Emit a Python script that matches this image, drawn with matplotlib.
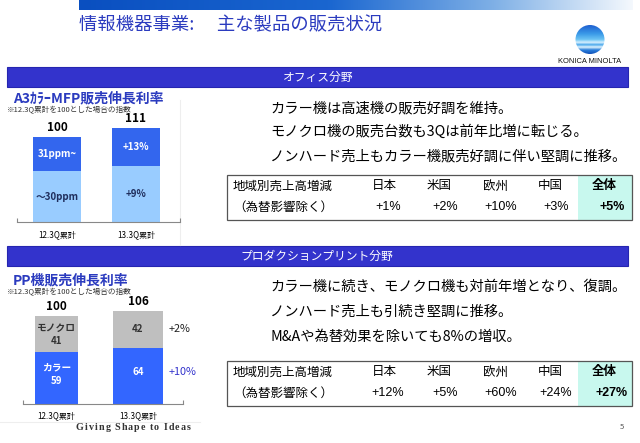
import numpy as np
import matplotlib
matplotlib.use("Agg")
import matplotlib.pyplot as plt
from matplotlib.patches import Rectangle, Circle
from matplotlib.colors import LinearSegmentedColormap

plt.rcParams['font.family'] = ['Noto Sans CJK JP', 'DejaVu Sans']

# ---- data ----
periods = ['12.3Q累計', '13.3Q累計']

# A3 color MFP index (12.3Q = 100)
mfp_low = [60, 65.4]       # ~30ppm
mfp_high = [40, 45.6]      # 31ppm~
mfp_total = [100, 111]
mfp_low_labels = ['～30ppm', '+9%']
mfp_high_labels = ['31ppm~', '+13%']

# PP index (12.3Q = 100)
pp_color = [59, 64]
pp_mono = [41, 42]
pp_total = [100, 106]
pp_color_labels = ['カラー\n59', '64']
pp_mono_labels = ['モノクロ\n41', '42']
pp_growth_color = '+10%'
pp_growth_mono = '+2%'

regions = ['日本', '米国', '欧州', '中国', '全体']
office_growth = ['+1%', '+2%', '+10%', '+3%', '+5%']
pp_growth = ['+12%', '+5%', '+60%', '+24%', '+27%']

office_lines = ['カラー機は高速機の販売好調を維持。',
                'モノクロ機の販売台数も3Qは前年比増に転じる。',
                'ノンハード売上もカラー機販売好調に伴い堅調に推移。']
pp_lines = ['カラー機に続き、モノクロ機も対前年増となり、復調。',
            'ノンハード売上も引続き堅調に推移。',
            'M&Aや為替効果を除いても8%の増収。']

tagline = 'Giving Shape to Ideas'

W, H = 640, 443
fig = plt.figure(figsize=(6.4, 4.43), dpi=100)

bg = fig.add_axes([0, 0, 1, 1])
bg.axis('off')

BAND = '#3333cc'
TITLE_BLUE = '#2b3bbf'


def px_axes(x0, y0, x1, y1):
    ax = fig.add_axes([x0 / W, 1 - y1 / H, (x1 - x0) / W, (y1 - y0) / H])
    ax.patch.set_alpha(0)
    return ax


# top gradient bar
grad = LinearSegmentedColormap.from_list(
    'top', [(0, '#0a4fc0'), (0.45, '#1a66d0'), (0.75, '#7fb0e6'), (1, '#f4f8fd')])
bg.imshow(np.linspace(0, 1, 256)[None, :], cmap=grad, aspect='auto',
          extent=[79, 633, 10, 0], zorder=1)

bg.text(79, 25, '情報機器事業:　 主な製品の販売状況', fontsize=13.2, color=TITLE_BLUE,
        va='center', ha='left')

# logo
globe = LinearSegmentedColormap.from_list(
    'globe', [(0, '#1e5fd0'), (0.3, '#3a9ae8'), (0.5, '#6cc4f4'), (0.6, '#d8f0ff'),
              (0.68, '#4aa8ec'), (0.76, '#e0f4ff'), (0.86, '#2a80dc'), (1, '#1150b8')])
im = bg.imshow(np.linspace(0, 1, 256)[:, None], cmap=globe, aspect='auto',
               extent=[575, 605, 54, 25], zorder=2)
clip = Circle((590, 39.5), 14.5, transform=bg.transData, facecolor='none', edgecolor='none')
bg.add_patch(clip)
im.set_clip_path(clip)
bg.text(590, 61, 'KONICA MINOLTA', fontsize=5.4, ha='center', va='center',
        family='Liberation Sans', color='#111111')

bg.set_xlim(0, W)
bg.set_ylim(H, 0)

# section bands
bg.add_patch(Rectangle((7, 67), 621, 20, facecolor=BAND, edgecolor='#2525b0', lw=0.8))
bg.text(318, 77, 'オフィス分野', color='white', fontsize=8.5, ha='center', va='center')
bg.add_patch(Rectangle((7, 246), 621, 20, facecolor=BAND, edgecolor='#2525b0', lw=0.8))
bg.text(317, 256, 'プロダクションプリント分野', color='white', fontsize=8.5,
        ha='center', va='center')

# right side comments
for i, line in enumerate(office_lines):
    bg.text(270, 108 + i * 24, line, fontsize=10.3, va='center', ha='left')
for i, line in enumerate(pp_lines):
    bg.text(270, 287 + i * 25, line, fontsize=10.3, va='center', ha='left')

# region tables
head_x = [384, 439, 496, 550, 604]
val_x = [388, 445, 501, 556, 612]


def region_table(top, height, row1, row2, values):
    bg.add_patch(Rectangle((578, top), 54, height, facecolor='#c8f8ee', edgecolor='none'))
    bg.add_patch(Rectangle((227, top), 405, height, facecolor='none',
                           edgecolor='#555555', lw=0.9))
    bg.text(233, row1, '地域別売上高増減', fontsize=9, va='center')
    bg.text(233, row2, '（為替影響除く）', fontsize=9, va='center')
    for j, (name, val) in enumerate(zip(regions, values)):
        last = j == len(regions) - 1
        bg.text(head_x[j], row1, name, fontsize=9, ha='center', va='center',
                fontweight='bold' if last else 'normal')
        bg.text(val_x[j], row2, val, fontsize=9, ha='center', va='center',
                family='Liberation Sans', fontweight='bold' if last else 'normal')


region_table(175, 45, 186, 207, office_growth)
region_table(361, 45, 372, 393, pp_growth)

# ---- chart 1: A3 color MFP ----
bg.text(13, 98, 'A3ｶﾗｰMFP販売伸長利率', fontsize=10, fontweight='bold',
        color=TITLE_BLUE, va='center')
bg.text(7, 110, '※12.3Q累計を100とした場合の指数', fontsize=5.5, color='#333333',
        va='center')
bg.plot([180, 180], [100, 245], color='#eeeeee', lw=0.8)

ax1 = px_axes(17, 110, 180, 222)
ax1.set_ylim(0, 112 / 0.85)
ax1.set_xlim(-40 / 79, 123 / 79)
x = np.arange(len(periods))
ax1.bar(x, mfp_low, width=0.62, color='#99ccff')
ax1.bar(x, mfp_high, width=0.62, bottom=mfp_low, color='#3366ee')
for i in x:
    ax1.text(i, mfp_low[i] / 2, mfp_low_labels[i], ha='center', va='center',
             fontsize=7, fontweight='bold', color='#1f2d5c')
    ax1.text(i, mfp_low[i] + mfp_high[i] / 2, mfp_high_labels[i], ha='center',
             va='center', fontsize=7, fontweight='bold', color='white')
    ax1.text(i, mfp_total[i] + 3, str(mfp_total[i]), ha='center', va='bottom',
             fontsize=8.5, fontweight='bold', clip_on=False)
    ax1.text(i, -15, periods[i], ha='center', va='center', fontsize=5.8,
             clip_on=False)

# ---- chart 2: PP ----
bg.text(13, 280, 'PP機販売伸長利率', fontsize=10, fontweight='bold',
        color=TITLE_BLUE, va='center')
bg.text(7, 292, '※12.3Q累計を100とした場合の指数', fontsize=5.5, color='#333333',
        va='center')
bg.plot([0, 200], [422, 422], color='#eeeeee', lw=0.8)

ax2 = px_axes(23, 294, 183, 404)
ax2.set_ylim(0, 110 / 0.88)
ax2.set_xlim(-33.5 / 81.5, 126.5 / 81.5)
x = np.arange(len(periods))
ax2.bar(x, pp_color, width=[0.52, 0.61], color='#3366ff')
ax2.bar(x, pp_mono, width=[0.52, 0.61], bottom=pp_color, color='#bfbfbf')
for i in x:
    ax2.text(i, pp_color[i] / 2 + 4, pp_color_labels[i], ha='center', va='center',
             fontsize=7, fontweight='bold', color='white', linespacing=1.4)
    ax2.text(i, pp_color[i] + pp_mono[i] / 2, pp_mono_labels[i], ha='center',
             va='center', fontsize=7, fontweight='bold', color='#333333',
             linespacing=1.4)
    ax2.text(i, pp_total[i] + 3, str(pp_total[i]), ha='center', va='bottom',
             fontsize=8.5, fontweight='bold', clip_on=False)
    ax2.text(i, -13, periods[i], ha='center', va='center', fontsize=5.8,
             clip_on=False)
ax2.text(1.38, pp_color[1] + pp_mono[1] / 2, pp_growth_mono, ha='left', va='center',
         fontsize=7.8, color='#222222', clip_on=False)
ax2.text(1.38, pp_color[1] / 2 + 4, pp_growth_color, ha='left', va='center',
         fontsize=7.8, color='#3333cc', clip_on=False)

for ax in (ax1, ax2):
    for s in ('top', 'right', 'left'):
        ax.spines[s].set_visible(False)
    ax.spines['bottom'].set_color('#888888')
    ax.spines['bottom'].set_linewidth(0.8)
    ax.set_yticks([])
    ax.set_xticks(ax.get_xlim())
    ax.set_xticklabels([])
    ax.tick_params(axis='x', direction='in', length=3, color='#888888', width=0.8)

# tagline with letter tracking
renderer = fig.canvas.get_renderer()
cx = 76
for ch in tagline:
    t = bg.text(cx, 428, ch, fontsize=7.2, family='Liberation Serif',
                fontweight='bold', color='#333333', va='center', ha='left')
    if ch == ' ':
        cx += 3.2
    else:
        cx += t.get_window_extent(renderer).width + 1.1
bg.text(620, 427, '5', fontsize=5.5, color='#555555', va='center')

fig.savefig('out.png', dpi=100)
